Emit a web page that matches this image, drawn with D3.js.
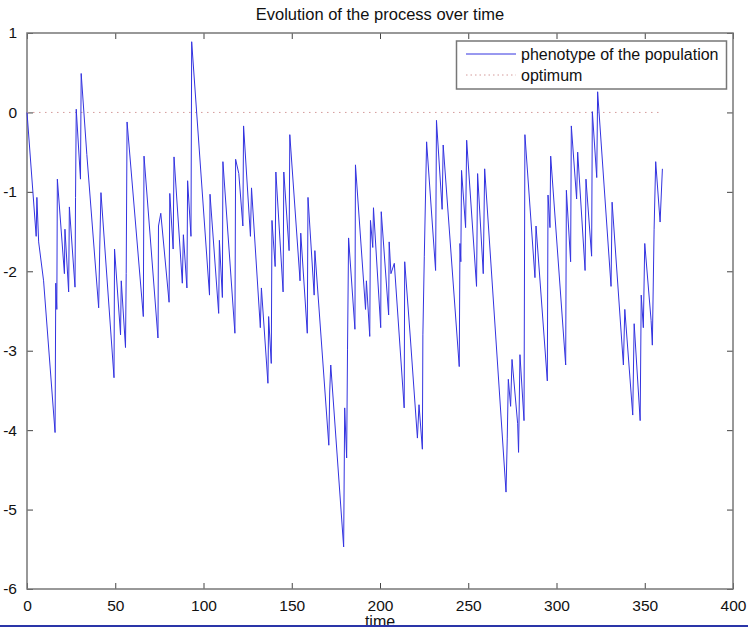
<!DOCTYPE html>
<html>
<head>
<meta charset="utf-8">
<script src="https://cdn.jsdelivr.net/npm/d3@7"></script>
<style>
  html, body { margin: 0; padding: 0; background: #fff; overflow: hidden; }
  svg { display: block; font-family: Arial, "Liberation Sans", sans-serif; }
</style>
</head>
<body>
<div class="chart"></div>
<script>
// vertices of the phenotype trace
const times = [0, 5.2, 5.6, 6.6, 9.4, 15.9, 16.3, 16.9, 17.2, 21.2, 21.5, 23.6, 24.0, 27.2, 27.5, 27.9,
  30.3, 30.7, 33.9, 40.6, 41.2, 41.9, 49.3, 49.6, 53.0, 53.4, 55.8, 56.2, 56.7, 65.9, 66.3,
  74.2, 74.5, 75.8, 80.5, 80.9, 82.8, 83.3, 88.0, 88.6, 90.6, 91.0, 92.9, 93.3, 103.4, 103.7,
  108.6, 109.0, 110.7, 111.0, 117.8, 118.2, 120.0, 122.3, 122.7, 126.6, 127.2, 132.2, 132.8,
  136.5, 136.9, 138.4, 138.8, 140.6, 141.0, 145.1, 145.5, 148.5, 148.9, 154.7, 155.1, 158.8,
  159.2, 162.7, 163.1, 171.0, 171.5, 172.1, 179.4, 180.0, 181.1, 181.6, 182.2, 185.8, 186.1,
  191.8, 192.3, 194.2, 194.6, 195.9, 196.3, 200.4, 200.7, 204.9, 205.2, 206.2, 208.1, 213.7,
  214.0, 217.2, 221.2, 222.1, 224.0, 224.3, 225.1, 226.4, 231.5, 232.0, 235.2, 235.8, 244.9,
  245.3, 245.8, 246.2, 248.5, 249.1, 254.7, 255.3, 258.5, 259.3, 271.4, 272.1, 272.7, 274.0,
  274.8, 278.0, 278.5, 279.3, 281.6, 282.1, 287.8, 288.4, 294.8, 295.2, 296.3, 296.7, 305.2,
  305.6, 308.0, 308.4, 311.4, 312.0, 316.2, 316.7, 319.9, 320.3, 322.8, 323.3, 330.9, 331.5,
  337.9, 338.7, 343.2, 344.0, 347.4, 348.0, 349.2, 350.0, 353.6, 354.3, 355.3, 356.2, 358.7, 360]
const phenotype = [0, -1.56, -1.07, -1.63, -2.12, -4.03, -2.15, -2.48, -0.84, -2.03, -1.47, -2.26, -1.19, -2.20, -1.07, 0.04,
  -0.84, 0.49, -0.53, -2.46, -1.72, -1.01, -3.34, -1.72, -2.80, -2.12, -2.96, -2.03, -0.12, -2.57, -0.55,
  -2.84, -1.43, -1.27, -2.39, -1.02, -1.72, -0.56, -2.15, -1.54, -2.21, -0.86, -1.56, 0.89, -2.30, -1.03,
  -2.53, -1.61, -2.33, -0.62, -2.78, -0.59, -0.77, -1.43, -0.17, -1.56, -0.95, -2.71, -2.21,
  -3.41, -2.57, -3.16, -1.36, -1.94, -0.75, -2.26, -0.75, -1.74, -0.28, -2.12, -1.52, -2.78,
  -1.07, -2.30, -1.74, -4.19, -3.52, -3.18, -5.47, -3.72, -4.35, -2.98, -1.58, -2.73, -0.66,
  -2.48, -2.12, -2.82, -1.36, -1.70, -1.20, -2.71, -1.25, -2.55, -1.63, -2.03, -1.90, -3.72,
  -1.88, -2.84, -4.10, -3.68, -4.24, -2.80, -1.81, -0.37, -1.99, -0.10, -1.22, -0.41, -3.20,
  -1.65, -1.88, -0.73, -1.45, -0.35, -2.19, -0.77, -2.03, -0.71, -4.78, -4.10, -3.36, -3.70,
  -3.11, -3.92, -4.28, -3.05, -3.88, -0.28, -2.08, -1.43, -3.38, -1.04, -1.45, -0.55, -3.18,
  -0.98, -1.88, -0.17, -1.09, -0.50, -1.99, -0.84, -1.81, 0.01, -0.82, 0.26, -2.19, -1.13,
  -3.18, -2.48, -3.81, -2.66, -3.88, -2.30, -2.71, -1.65, -2.62, -2.93, -1.47, -0.62, -1.38, -0.71]
const optimumTimes = [0, 360]
const optimumValues = [0, 0]

const xTicks = [0, 50, 100, 150, 200, 250, 300, 350, 400]
const yTicks = [-6, -5, -4, -3, -2, -1, 0, 1]
const legendLabels = ['phenotype of the population', 'optimum']

const width = 748, height = 627
const margin = { top: 33, right: 15, bottom: 38, left: 27 }

const svg = d3.select('.chart')
  .append('svg')
  .attr('width', width)
  .attr('height', height)

const x = d3.scaleLinear()
  .domain([0, 400])
  .range([margin.left, width - margin.right])

const y = d3.scaleLinear()
  .domain([-6, 1])
  .range([height - margin.bottom, margin.top])

const axisColor = '#777'
const plain = d => String(d)   // hyphen minus, no decimals, like the original

// axes with inward ticks, MATLAB style box
const xAxis = d3.axisBottom(x).tickValues(xTicks).tickSizeInner(-6).tickSizeOuter(0).tickPadding(11).tickFormat(plain)
const xTop = d3.axisTop(x).tickValues(xTicks).tickSizeInner(-6).tickSizeOuter(0).tickFormat('')
const yAxis = d3.axisLeft(y).tickValues(yTicks).tickSizeInner(-6).tickSizeOuter(0).tickPadding(10).tickFormat(plain)
const yRight = d3.axisRight(y).tickValues(yTicks).tickSizeInner(-6).tickSizeOuter(0).tickFormat('')

svg.append('g').attr('transform', `translate(0, ${y(-6)})`).call(xAxis)
svg.append('g').attr('transform', `translate(0, ${y(1)})`).call(xTop)
svg.append('g').attr('transform', `translate(${x(0)}, 0)`).call(yAxis)
svg.append('g').attr('transform', `translate(${x(400)}, 0)`).call(yRight)

svg.selectAll('.domain').remove()
svg.selectAll('.tick line').attr('stroke', '#444').attr('stroke-width', 1)
svg.selectAll('.tick text').attr('fill', '#111').attr('font-size', 15.5)
  .attr('font-family', 'Arial, "Liberation Sans", sans-serif')

svg.append('rect')
  .attr('x', x(0))
  .attr('y', y(1))
  .attr('width', x(400) - x(0))
  .attr('height', y(-6) - y(1))
  .attr('fill', 'none')
  .attr('stroke', axisColor)
  .attr('stroke-width', 1.5)

// optimum, dotted
const optLine = d3.line()
  .x((d, i) => x(optimumTimes[i]))
  .y(d => y(d))

svg.append('path')
  .datum(optimumValues)
  .attr('d', optLine)
  .attr('fill', 'none')
  .attr('stroke', '#d49a9a')
  .attr('stroke-width', 1)
  .attr('stroke-dasharray', '1.5,4.5')

// phenotype trace
const line = d3.line()
  .x((d, i) => x(times[i]))
  .y(d => y(d))

svg.append('path')
  .datum(phenotype)
  .attr('d', line)
  .attr('fill', 'none')
  .attr('stroke', '#3333e0')
  .attr('stroke-width', 1)

// title and x label
svg.append('text')
  .attr('x', (x(0) + x(400)) / 2)
  .attr('y', 20)
  .attr('text-anchor', 'middle')
  .attr('font-size', 16.5)
  .attr('fill', '#111')
  .text('Evolution of the process over time')

// the original picture is cropped through this label
svg.append('text')
  .attr('x', (x(0) + x(400)) / 2)
  .attr('y', 627)
  .attr('text-anchor', 'middle')
  .attr('font-size', 16)
  .attr('fill', '#111')
  .text('time')

// legend
const legend = svg.append('g')
legend.append('rect')
  .attr('x', 456.5)
  .attr('y', 41)
  .attr('width', 270)
  .attr('height', 48)
  .attr('fill', '#fff')
  .attr('stroke', axisColor)
  .attr('stroke-width', 1.5)

const legendStyles = [
  { stroke: '#3333e0', dash: null },
  { stroke: '#d49a9a', dash: '1.5,3' }
]

legendLabels.forEach((label, i) => {
  const ly = 54 + i * 21
  legend.append('line')
    .attr('x1', 466).attr('x2', 516)
    .attr('y1', ly).attr('y2', ly)
    .attr('stroke', legendStyles[i].stroke)
    .attr('stroke-width', 1)
    .attr('stroke-dasharray', legendStyles[i].dash)
  legend.append('text')
    .attr('x', 521)
    .attr('y', ly + 6)
    .attr('font-size', 16)
    .attr('fill', '#111')
    .text(label)
})

// blue strip along the bottom edge of the picture
svg.append('rect')
  .attr('x', 0)
  .attr('y', 625)
  .attr('width', width)
  .attr('height', 2)
  .attr('fill', '#2a35a8')
</script>
</body>
</html>
